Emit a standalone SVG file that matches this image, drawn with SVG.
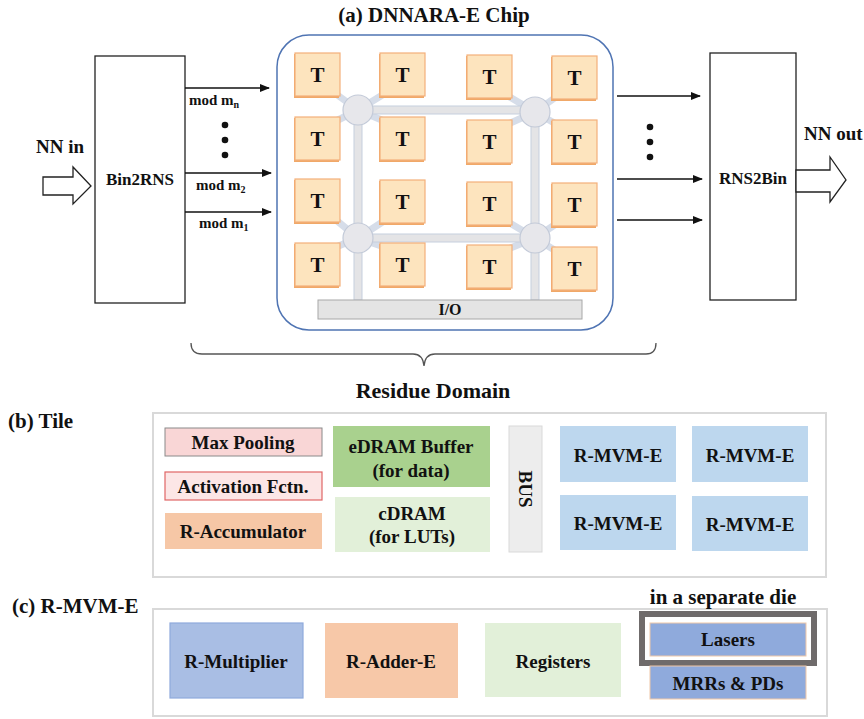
<svg xmlns="http://www.w3.org/2000/svg" width="864" height="719" viewBox="0 0 864 719" font-family="'Liberation Serif', Tinos, 'Times New Roman', 'Nimbus Roman', 'DejaVu Serif', serif" font-weight="bold">
<style>
text{font-family:"Liberation Serif",Tinos,"Times New Roman","Nimbus Roman","DejaVu Serif",serif;font-weight:bold;fill:#111;}
.c{text-anchor:middle;}
.blk{fill:#fff;stroke:#222;stroke-width:1.3;}
.ln{stroke:#111;stroke-width:1.3;fill:none;}
.tile{fill:#FDE4BE;stroke:#F4B07A;stroke-width:1.2;}
.tsh{fill:#F0A868;}
.tt{font-size:21px;}
.bar{fill:#E4E4E6;stroke:#C6CFDE;stroke-width:1;}
.spoke{stroke:#D6DDE9;stroke-width:7;}
.hub{fill:#E7E7EB;stroke:#C3CAD8;stroke-width:1.2;}
.lbl{font-size:19px;}
.sm{font-size:15px;}
.frame{fill:#fff;stroke:#D9D9D9;stroke-width:2;}
</style>
<defs>
<marker id="ah" markerWidth="10" markerHeight="8" refX="9" refY="4" orient="auto" markerUnits="userSpaceOnUse">
<path d="M0,0 L10,4 L0,8 z" fill="#111"/>
</marker>
</defs>

<text class="c" x="434" y="22" font-size="21">(a) DNNARA-E Chip</text>

<g id="nn-in">
<text x="36" y="153" font-size="19">NN in</text>
<polygon points="43,177 73,177 73,167 91,186 73,204 73,195 43,195" fill="#fff" stroke="#222" stroke-width="1.3"/>
</g>

<g id="bin2rns">
<rect class="blk" x="95" y="56" width="90" height="247"/>
<text class="c" x="140" y="185" font-size="17">Bin2RNS</text>
</g>

<g id="chip">
<rect x="277" y="35" width="336" height="295" rx="32" fill="#fff" stroke="#4F74B3" stroke-width="1.5"/>
<g id="interconnect">
<line class="spoke" x1="358" y1="110" x2="336" y2="94"/>
<line class="spoke" x1="358" y1="110" x2="384" y2="94"/>
<line class="spoke" x1="358" y1="110" x2="336" y2="121"/>
<line class="spoke" x1="358" y1="110" x2="384" y2="121"/>
<line class="spoke" x1="535" y1="112" x2="508" y2="96"/>
<line class="spoke" x1="535" y1="112" x2="556" y2="97"/>
<line class="spoke" x1="535" y1="112" x2="508" y2="124"/>
<line class="spoke" x1="535" y1="112" x2="556" y2="124"/>
<line class="spoke" x1="358" y1="238" x2="336" y2="220"/>
<line class="spoke" x1="358" y1="238" x2="384" y2="221"/>
<line class="spoke" x1="358" y1="238" x2="336" y2="247"/>
<line class="spoke" x1="358" y1="238" x2="384" y2="247"/>
<line class="spoke" x1="535" y1="238" x2="508" y2="222"/>
<line class="spoke" x1="535" y1="238" x2="556" y2="224"/>
<line class="spoke" x1="535" y1="238" x2="508" y2="249"/>
<line class="spoke" x1="535" y1="238" x2="556" y2="251"/>
<rect class="bar" x="358" y="106" width="177" height="8"/>
<rect class="bar" x="358" y="234" width="177" height="8"/>
<rect class="bar" x="354" y="110" width="8" height="190"/>
<rect class="bar" x="531" y="112" width="8" height="188"/>
<circle class="hub" cx="358" cy="110" r="15"/>
<circle class="hub" cx="535" cy="112" r="15"/>
<circle class="hub" cx="358" cy="238" r="15"/>
<circle class="hub" cx="535" cy="238" r="15"/>
</g>
<g id="tiles">
<g id="t11"><rect class="tsh" x="294" y="54" width="45" height="44"/><rect class="tile" x="295" y="53" width="45" height="43"/><text class="c tt" x="317.5" y="82">T</text></g>
<g id="t12"><rect class="tsh" x="379" y="54" width="45" height="44"/><rect class="tile" x="380" y="53" width="45" height="43"/><text class="c tt" x="402.5" y="82">T</text></g>
<g id="t13"><rect class="tsh" x="466" y="56" width="45" height="44"/><rect class="tile" x="467" y="55" width="45" height="43"/><text class="c tt" x="489.5" y="84">T</text></g>
<g id="t14"><rect class="tsh" x="551" y="57" width="45" height="44"/><rect class="tile" x="552" y="56" width="45" height="43"/><text class="c tt" x="574.5" y="85">T</text></g>
<g id="t21"><rect class="tsh" x="294" y="118" width="45" height="44"/><rect class="tile" x="295" y="117" width="45" height="43"/><text class="c tt" x="317.5" y="146">T</text></g>
<g id="t22"><rect class="tsh" x="379" y="118" width="45" height="44"/><rect class="tile" x="380" y="117" width="45" height="43"/><text class="c tt" x="402.5" y="146">T</text></g>
<g id="t23"><rect class="tsh" x="466" y="121" width="45" height="44"/><rect class="tile" x="467" y="120" width="45" height="43"/><text class="c tt" x="489.5" y="149">T</text></g>
<g id="t24"><rect class="tsh" x="551" y="121" width="45" height="44"/><rect class="tile" x="552" y="120" width="45" height="43"/><text class="c tt" x="574.5" y="149">T</text></g>
<g id="t31"><rect class="tsh" x="294" y="180" width="45" height="44"/><rect class="tile" x="295" y="179" width="45" height="43"/><text class="c tt" x="317.5" y="208">T</text></g>
<g id="t32"><rect class="tsh" x="379" y="181" width="45" height="44"/><rect class="tile" x="380" y="180" width="45" height="43"/><text class="c tt" x="402.5" y="209">T</text></g>
<g id="t33"><rect class="tsh" x="466" y="183" width="45" height="44"/><rect class="tile" x="467" y="182" width="45" height="43"/><text class="c tt" x="489.5" y="211">T</text></g>
<g id="t34"><rect class="tsh" x="551" y="184" width="45" height="44"/><rect class="tile" x="552" y="183" width="45" height="43"/><text class="c tt" x="574.5" y="212">T</text></g>
<g id="t41"><rect class="tsh" x="294" y="244" width="45" height="44"/><rect class="tile" x="295" y="243" width="45" height="43"/><text class="c tt" x="317.5" y="272">T</text></g>
<g id="t42"><rect class="tsh" x="379" y="244" width="45" height="44"/><rect class="tile" x="380" y="243" width="45" height="43"/><text class="c tt" x="402.5" y="272">T</text></g>
<g id="t43"><rect class="tsh" x="466" y="246" width="45" height="44"/><rect class="tile" x="467" y="245" width="45" height="43"/><text class="c tt" x="489.5" y="274">T</text></g>
<g id="t44"><rect class="tsh" x="551" y="248" width="45" height="44"/><rect class="tile" x="552" y="247" width="45" height="43"/><text class="c tt" x="574.5" y="276">T</text></g>
</g>
<g id="io">
<rect x="318" y="300" width="264" height="19" fill="#E4E4E4" stroke="#A8A8A8" stroke-width="1"/>
<text class="c" x="450" y="315" font-size="16">I/O</text>
</g>
</g>

<g id="rns2bin">
<rect class="blk" x="710" y="53" width="86" height="247"/>
<text class="c" x="753" y="184" font-size="17">RNS2Bin</text>
</g>

<g id="nn-out">
<text x="804" y="140" font-size="19">NN out</text>
<polygon points="796,170 830,170 830,157 846,180 830,202 830,192 796,192" fill="#fff" stroke="#222" stroke-width="1.3"/>
</g>

<g id="connectors">
<line class="ln" x1="185" y1="88" x2="269" y2="88" marker-end="url(#ah)"/>
<line class="ln" x1="185" y1="173" x2="271" y2="173" marker-end="url(#ah)"/>
<line class="ln" x1="185" y1="212" x2="271" y2="212" marker-end="url(#ah)"/>
<line class="ln" x1="617" y1="96" x2="700" y2="96" marker-end="url(#ah)"/>
<line class="ln" x1="617" y1="179" x2="702" y2="179" marker-end="url(#ah)"/>
<line class="ln" x1="617" y1="220" x2="702" y2="220" marker-end="url(#ah)"/>
</g>

<g id="mod-labels">
<text class="sm" x="189" y="105">mod m<tspan font-size="10" dy="3">n</tspan></text>
<text class="sm" x="196" y="190">mod m<tspan font-size="10" dy="3">2</tspan></text>
<text class="sm" x="199" y="228">mod m<tspan font-size="10" dy="3">1</tspan></text>
<circle cx="225" cy="125" r="3.3" fill="#111"/>
<circle cx="225" cy="140" r="3.3" fill="#111"/>
<circle cx="225" cy="155" r="3.3" fill="#111"/>
<circle cx="650" cy="127" r="3.3" fill="#111"/>
<circle cx="650" cy="142" r="3.3" fill="#111"/>
<circle cx="650" cy="157" r="3.3" fill="#111"/>
</g>

<g id="residue-domain">
<path d="M191,343 Q191,354 202,354 L413,354 Q423,354 424,366 Q425,354 435,354 L646,354 Q656,354 656,343" fill="none" stroke="#555" stroke-width="1.3"/>
<text class="c" x="433" y="398" font-size="22">Residue Domain</text>
</g>

<text x="8" y="428" font-size="21">(b) Tile</text>
<g id="tile-detail">
<rect class="frame" x="153" y="413" width="673" height="164"/>
<g id="maxpool"><rect x="165" y="428" width="157" height="28" fill="#F9D6D6" stroke="#8A8A8A" stroke-width="1"/><text class="c lbl" x="243" y="449">Max Pooling</text></g>
<g id="activation"><rect x="165" y="472" width="157" height="28" fill="#FCE6E6" stroke="#E06666" stroke-width="1.2"/><text class="c lbl" x="243" y="493">Activation Fctn.</text></g>
<g id="accumulator"><rect x="165" y="513" width="157" height="36" fill="#F6C7A6"/><text class="c lbl" x="243" y="538">R-Accumulator</text></g>
<g id="edram"><rect x="333" y="426" width="157" height="61" fill="#A9D18E"/><text class="c lbl" x="411" y="453">eDRAM Buffer</text><text class="c lbl" x="411" y="477">(for data)</text></g>
<g id="cdram"><rect x="335" y="497" width="155" height="55" fill="#E2F0D9"/><text class="c lbl" x="412" y="520">cDRAM</text><text class="c lbl" x="412" y="543">(for LUTs)</text></g>
<g id="bus"><rect x="509" y="426" width="33" height="126" fill="#EDEDED" stroke="#D9D9D9" stroke-width="1"/><text class="c lbl" transform="translate(525,489) rotate(90)" x="0" y="6">BUS</text></g>
<g id="rmvm1"><rect x="560" y="426" width="116" height="56" fill="#BDD7EE"/><text class="c lbl" x="618" y="462">R-MVM-E</text></g>
<g id="rmvm2"><rect x="692" y="426" width="116" height="56" fill="#BDD7EE"/><text class="c lbl" x="750" y="462">R-MVM-E</text></g>
<g id="rmvm3"><rect x="560" y="495" width="116" height="55" fill="#BDD7EE"/><text class="c lbl" x="618" y="530">R-MVM-E</text></g>
<g id="rmvm4"><rect x="692" y="496" width="116" height="55" fill="#BDD7EE"/><text class="c lbl" x="750" y="531">R-MVM-E</text></g>
</g>

<text x="12" y="613" font-size="21">(c) R-MVM-E</text>
<g id="rmvm-detail">
<rect class="frame" x="153" y="609" width="674" height="107"/>
<g id="multiplier"><rect x="170" y="623" width="133" height="75" fill="#A9BEE4" stroke="#8FAADC" stroke-width="1.2"/><text class="c lbl" x="236" y="668">R-Multiplier</text></g>
<g id="adder"><rect x="325" y="623" width="133" height="75" fill="#F7C8A8"/><text class="c lbl" x="391" y="668">R-Adder-E</text></g>
<g id="registers"><rect x="485" y="623" width="136" height="74" fill="#E2F0D9"/><text class="c lbl" x="553" y="668">Registers</text></g>
<g id="separate-die">
<text class="c" x="723" y="604" font-size="21">in a separate die</text>
<rect x="642" y="614" width="172" height="49" fill="#fff" stroke="#6F6B6B" stroke-width="6"/>
<g id="lasers"><rect x="650" y="623" width="156" height="33" fill="#8FAADC" stroke="#F0C8A8" stroke-width="1"/><text class="c lbl" x="728" y="646">Lasers</text></g>
</g>
<g id="mrrs"><rect x="650" y="666" width="156" height="33" fill="#8FAADC" stroke="#F0C8A8" stroke-width="1"/><text class="c lbl" x="728" y="690">MRRs &amp; PDs</text></g>
</g>
</svg>
